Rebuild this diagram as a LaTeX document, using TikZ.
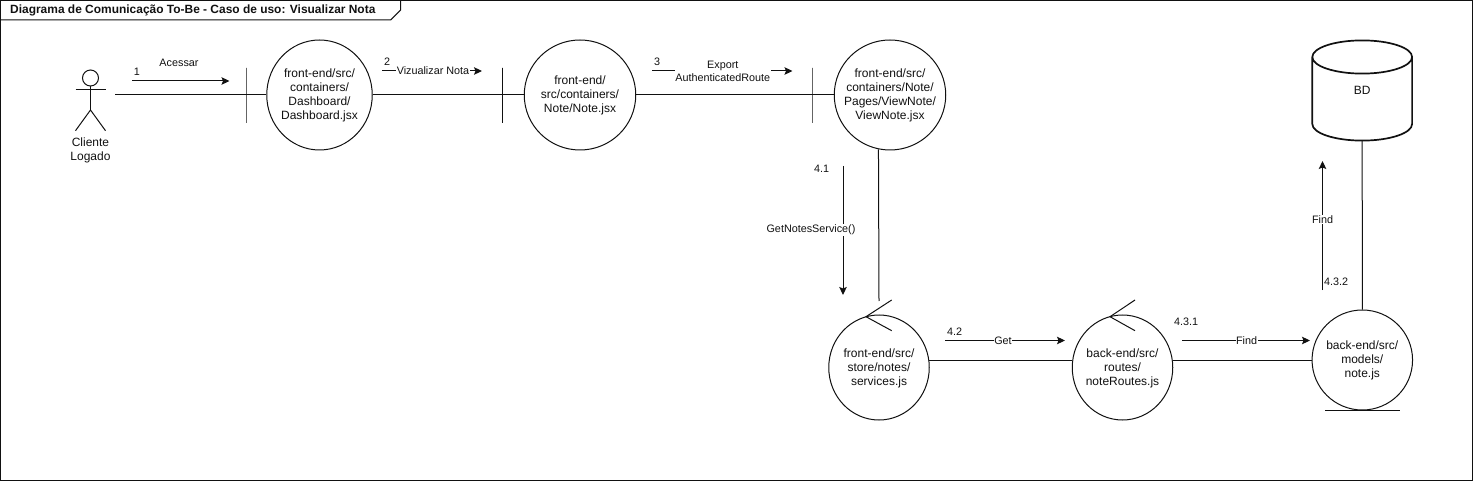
\documentclass[tikz,border=0pt]{standalone}
\usepackage{fontspec}
\setmainfont{Liberation Sans}
\usetikzlibrary{shapes.geometric,arrows.meta}
\definecolor{ink}{HTML}{111111}
\tikzset{
  x=1pt,y=-1pt,
  lane/.style={draw=ink,line width=1pt},
  big/.style={font=\fontsize{12}{14}\selectfont,text=ink,align=center},
  small/.style={font=\fontsize{10.8}{13}\selectfont,text=ink,align=center,inner sep=0pt},
  lbl/.style={small,fill=white,inner xsep=0.5pt,inner ysep=0.5pt},
  obj/.style={ellipse,draw=ink,line width=1pt,inner sep=0pt,fill=white,minimum width=#1},
  barmark/.style={draw=ink,line width=1pt,minimum width=0pt,minimum height=55pt,inner sep=0pt,outer sep=0pt},
  msg/.style={draw=ink,line width=1pt,-{Stealth[length=8pt,width=7.5pt,inset=1.5pt]}},
}
\begin{document}
\begin{tikzpicture}
\useasboundingbox (0,0) rectangle (1473,481);
% frame
\draw[lane] (0.5,0.5) rectangle (1472,480);
\node[font=\fontsize{11.95}{14}\selectfont\bfseries,text=ink,inner sep=0pt,anchor=west] (title) at (10,10.5) {Diagrama de Comunicação To-Be - Caso de uso: Visualizar Nota};
\draw[lane] (0.5,20) -- (390.7,20) -- (400.7,10) -- (400.7,0.5);
% actor
\draw[lane] (90.5,78) circle[radius=8];
\draw[lane] (90.5,86) -- (90.5,110);
\draw[lane] (75.5,90) -- (105.5,90);
\draw[lane] (75.5,130.7) -- (90.5,110) -- (105.5,130.7);
\node[big,inner sep=0pt] (actor) at (90.5,150.5) {Cliente\\Logado};
\coordinate (actorend) at (115,95);
% objects
\node[obj=105.5pt,minimum height=110pt,label={[big]center:front-end/src/\\containers/\\Dashboard/\\Dashboard.jsx}] (c1) at (319.5,95) {};
\node[obj=111.5pt,minimum height=110pt,label={[big]center:front-end/\\src/containers/\\Note/Note.jsx}] (c2) at (580,95) {};
\node[obj=111.5pt,minimum height=110pt,label={[big]center:front-end/src/\\containers/Note/\\Pages/ViewNote/\\ViewNote.jsx}] (c3) at (890,95) {};
\node[obj=100.5pt,minimum height=105pt,label={[big,yshift=-0.5pt]center:front-end/src/\\store/notes/\\services.js}] (c4) at (879,367.5) {};
\node[obj=100.5pt,minimum height=105pt,label={[big,yshift=-0.5pt]center:back-end/src/\\routes/\\noteRoutes.js}] (c5) at (1122.5,367.5) {};
\node[obj=100.5pt,minimum height=100pt,label={[big]center:back-end/src/\\models/\\note.js}] (c6) at (1362.3,360) {};
% boundary bars
\node[barmark] (b1) at (246,95.5) {};
\node[barmark] (b2) at (502.5,95.5) {};
\node[barmark] (b3) at (812,95.5) {};
% database
\draw[draw=ink,line width=1.7pt] (1312.3,57) -- (1312.3,124)
  arc[start angle=180,end angle=360,x radius=49.9,y radius=-16.6] -- (1412.1,57)
  arc[start angle=0,end angle=180,x radius=49.9,y radius=-16.6]
  arc[start angle=180,end angle=360,x radius=49.9,y radius=-16.6];
\node[big,minimum width=100pt,minimum height=100pt,inner sep=0pt] (bd) at (1362.2,90.5) {BD};
% control and entity marks
\draw[lane] (891.7,300) -- (866,316.7) -- (891.7,330.7);
\draw[lane] (1135,300) -- (1110,316.7) -- (1135,330.7);
\draw[lane] (1325,410) -- (1400,410);
\coordinate (c4top) at (879,301);
% links
\draw[lane] (actorend) -- (c1.west);
\draw[lane] (c1.east) -- (c2.west);
\draw[lane] (c2.east) -- (c3.west);
\draw[lane] (c3.258.5) -- (c4top);
\draw[lane,shorten <=-0.5pt,shorten >=-0.5pt] (c4.east |- c6.west) -- (c5.west |- c6.west);
\draw[lane,shorten <=-0.5pt] (c5.east |- c6.west) -- (c6.west);
\draw[lane] (c6.north) -- (bd.south);
% messages
\coordinate (m1a) at (132,81); \coordinate (m1b) at (229.5,81);
\coordinate (m2a) at (382,71); \coordinate (m2b) at (482,71);
\coordinate (m3a) at (652,71); \coordinate (m3b) at (792.5,71);
\coordinate (m41a) at (843,166); \coordinate (m41b) at (843,295);
\coordinate (m42a) at (945,340.5); \coordinate (m42b) at (1065,340.5);
\coordinate (m431a) at (1182,340.5); \coordinate (m431b) at (1310,340.5);
\coordinate (m432a) at (1322.5,290); \coordinate (m432b) at (1322.5,161);
\draw[msg] (m1a) -- (m1b);
\draw[msg] (m2a) -- node[lbl,pos=0.51] (l2) {Vizualizar Nota} (m2b);
\draw[msg] (m3a) -- node[lbl,pos=0.5036] (l3) {Export\\AuthenticatedRoute} (m3b);
\draw[msg] (m41a) -- (m41b);
\draw[msg] (m42a) -- node[lbl,pos=0.483] (l42) {Get} (m42b);
\draw[msg] (m431a) -- node[lbl,pos=0.504] (l431) {Find} (m431b);
\draw[msg] (m432a) -- node[lbl,pos=0.543] (l432) {Find} (m432b);
\node[lbl] (l41) at (811,230) {GetNotesService()};
\node[small] (acessar) at (179,63) {Acessar};
\node[small] (n1) at (137,72) {1};
\node[small] (n2) at (387,62) {2};
\node[small] (n3) at (657,62) {3};
\node[small] (n41) at (821.5,169) {4.1};
\node[small] (n42) at (954.5,332) {4.2};
\node[small] (n431) at (1186,322) {4.3.1};
\node[small] (n432) at (1336,282) {4.3.2};
\end{tikzpicture}
\end{document}
